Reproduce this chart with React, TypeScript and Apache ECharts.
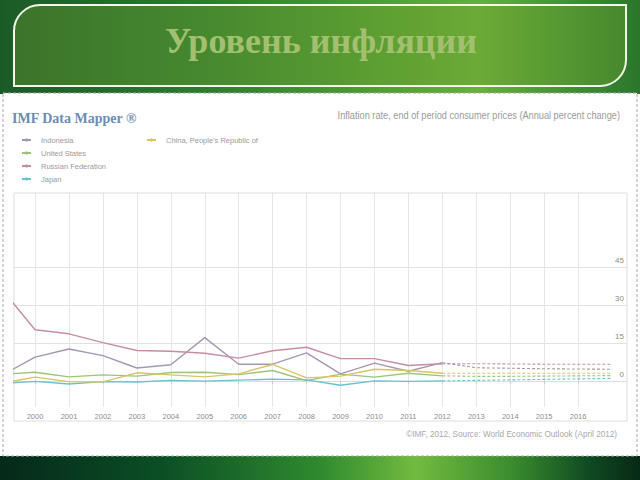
import React, { useEffect, useRef } from "react";
import * as echarts from "echarts";

const actualYears = [1999, 2000, 2001, 2002, 2003, 2004, 2005, 2006, 2007, 2008, 2009, 2010, 2011, 2012];
const forecastYears = [2012, 2013, 2014, 2015, 2016, 2017];
const axisYears = [2000, 2001, 2002, 2003, 2004, 2005, 2006, 2007, 2008, 2009, 2010, 2011, 2012, 2013, 2014, 2015, 2016];
const yTicks = [0, 15, 30, 45];

const countries = ["Indonesia", "United States", "Russian Federation", "Japan", "China, People's Republic of"];
const colors = ["#a597b3", "#9cc47a", "#c58ea6", "#66c2cf", "#d9c466"];

const indonesiaActual = [2.0, 9.4, 12.6, 10.0, 5.1, 6.4, 17.1, 6.6, 6.6, 11.1, 2.8, 7.0, 3.8, 7.2];
const usActual = [2.6, 3.4, 1.6, 2.4, 1.9, 3.3, 3.4, 2.5, 4.1, 0.1, 2.7, 1.5, 3.0, 2.0];
const russiaActual = [36.5, 20.2, 18.6, 15.1, 12.0, 11.7, 10.9, 9.0, 11.9, 13.3, 8.8, 8.8, 6.1, 6.8];
const japanActual = [-1.1, -0.2, -1.2, -0.3, -0.4, 0.2, -0.1, 0.3, 0.7, 0.4, -1.7, 0.0, -0.2, 0.0];
const chinaActual = [-1.0, 1.5, -0.3, -0.4, 3.2, 2.4, 1.6, 2.8, 6.5, 1.2, 1.9, 4.6, 4.1, 3.0];

const indonesiaForecast = [7.2, 5.2, 5.0, 4.8, 4.7, 4.6];
const usForecast = [2.0, 1.8, 1.8, 1.9, 2.0, 2.1];
const russiaForecast = [6.8, 6.8, 6.7, 6.6, 6.6, 6.6];
const japanForecast = [0.0, 0.2, 0.4, 0.6, 0.8, 1.0];
const chinaForecast = [3.0, 3.0, 3.0, 3.0, 3.0, 3.0];

const actualSets = [indonesiaActual, usActual, russiaActual, japanActual, chinaActual];
const forecastSets = [indonesiaForecast, usForecast, russiaForecast, japanForecast, chinaForecast];

export default function App() {
  const ref = useRef<HTMLDivElement>(null);
  useEffect(() => {
    if (!ref.current) return;
    const chart = echarts.init(ref.current, null, { renderer: "svg" });
    const series: any[] = [];
    countries.forEach((name, i) => {
      series.push({
        name,
        type: "line",
        data: actualYears.map((y, k) => [y, actualSets[i][k]]),
        showSymbol: false,
        symbol: "circle",
        symbolSize: 4,
        lineStyle: { color: colors[i], width: 1.4 },
        itemStyle: { color: colors[i] },
        z: 3,
        silent: true,
      });
    });
    countries.forEach((name, i) => {
      series.push({
        name,
        type: "line",
        data: forecastYears.map((y, k) => [y, forecastSets[i][k]]),
        showSymbol: false,
        symbol: "circle",
        lineStyle: { color: colors[i], width: 1.1, type: [3, 2] },
        itemStyle: { color: colors[i] },
        z: 3,
        silent: true,
      });
    });

    const legendText = {
      color: "#9a9a9a",
      fontSize: 7.5,
      fontFamily: "'Liberation Sans', Arial, sans-serif",
      padding: [0, 0, 0, 5],
      lineHeight: 10,
    };

    chart.setOption({
      animation: false,
      backgroundColor: "#ffffff",
      grid: { left: 14, right: 13, top: 193, bottom: 73, show: false },
      legend: [
        {
          data: countries.slice(0, 4),
          orient: "vertical",
          left: 21,
          top: 135,
          padding: 0,
          itemWidth: 9,
          itemHeight: 4,
          itemGap: 3,
          textStyle: legendText,
          selectedMode: false,
        },
        {
          data: countries.slice(4),
          orient: "vertical",
          left: 146,
          top: 135,
          padding: 0,
          itemWidth: 9,
          itemHeight: 4,
          itemGap: 3,
          textStyle: legendText,
          selectedMode: false,
        },
      ],
      xAxis: {
        type: "value",
        min: 1999.38,
        max: 2017.44,
        axisLine: { show: true, lineStyle: { color: "#dddddd" } },
        axisTick: { show: true, customValues: axisYears, length: 3, lineStyle: { color: "#cccccc" } },
        axisLabel: {
          customValues: axisYears,
          formatter: (v: number) => String(Math.round(v)),
          color: "#8c8c8c",
          fontSize: 7.5,
          margin: 5,
          fontFamily: "'Liberation Sans', Arial, sans-serif",
        },
        splitLine: { show: true, lineStyle: { color: "#e6e6e6", width: 1 } },
      },
      yAxis: {
        type: "value",
        position: "right",
        min: -10.3,
        max: 74.2,
        axisLine: { show: false },
        axisTick: { show: false, customValues: yTicks },
        axisLabel: {
          customValues: yTicks,
          inside: true,
          margin: 3,
          verticalAlign: "bottom",
          padding: [0, 0, 2, 0],
          color: "#8c8c8c",
          fontSize: 8,
          fontFamily: "'Liberation Sans', Arial, sans-serif",
        },
        splitLine: { show: true, lineStyle: { color: "#e2e2e2", width: 1 } },
      },
      graphic: [
        {
          type: "rect",
          z: -10,
          shape: { x: 0, y: 0, width: 640, height: 94 },
          style: {
            fill: new echarts.graphic.LinearGradient(0, 0, 1, 0, [
              { offset: 0, color: "#1a5a27" },
              { offset: 0.3, color: "#2a7a2e" },
              { offset: 0.6, color: "#4f9f33" },
              { offset: 0.75, color: "#66b03a" },
              { offset: 0.9, color: "#3d8e31" },
              { offset: 1, color: "#2a762d" },
            ]),
          },
        },
        {
          type: "rect",
          z: -9,
          shape: { x: 14, y: 5, width: 612, height: 81, r: [26, 0, 26, 0] },
          style: { fill: "rgba(120,160,50,0.35)", stroke: "#f2f7ea", lineWidth: 2 },
        },
        {
          type: "text",
          z: -8,
          x: 321,
          y: 41,
          style: {
            text: "Уровень инфляции",
            font: "bold 36px 'Liberation Serif', 'DejaVu Serif', serif",
            fill: "#a3c070",
            textAlign: "center",
            textVerticalAlign: "middle",
          },
        },
        {
          type: "rect",
          z: -10,
          shape: { x: 0, y: 456, width: 640, height: 24 },
          style: {
            fill: new echarts.graphic.LinearGradient(0, 0, 1, 0, [
              { offset: 0, color: "#05291a" },
              { offset: 0.25, color: "#0b4e25" },
              { offset: 0.5, color: "#2f8a2e" },
              { offset: 0.65, color: "#72bb3e" },
              { offset: 0.8, color: "#3a8c2e" },
              { offset: 0.92, color: "#0f4a22" },
              { offset: 1, color: "#082815" },
            ]),
          },
        },
        {
          type: "rect",
          z: -9,
          shape: { x: 3, y: 93, width: 634, height: 363 },
          style: { fill: "#ffffff", stroke: "#a8a8a8", lineWidth: 1, lineDash: [3, 2] },
        },
        {
          type: "rect",
          z: 1,
          shape: { x: 14, y: 193, width: 613, height: 228 },
          style: { fill: "none", stroke: "#dddddd", lineWidth: 1 },
          silent: true,
        },
        {
          type: "text",
          x: 12,
          y: 118,
          style: {
            text: "IMF Data Mapper ®",
            font: "bold 14px 'Liberation Serif', 'DejaVu Serif', serif",
            fill: "#6b8db5",
            textVerticalAlign: "middle",
          },
        },
        {
          type: "text",
          x: 620,
          y: 115,
          scaleX: 0.92,
          style: {
            text: "Inflation rate, end of period consumer prices (Annual percent change)",
            font: "10px 'Liberation Sans', Arial, sans-serif",
            fill: "#9a9a9a",
            textAlign: "right",
            textVerticalAlign: "middle",
          },
        },
        {
          type: "text",
          x: 617,
          y: 434,
          scaleX: 0.86,
          style: {
            text: "©IMF, 2012, Source: World Economic Outlook (April 2012)",
            font: "9.5px 'Liberation Sans', Arial, sans-serif",
            fill: "#a8a8a8",
            textAlign: "right",
            textVerticalAlign: "middle",
          },
        },
      ],
      series,
    });
    return () => chart.dispose();
  }, []);
  return (
    <div
      ref={ref}
      style={{ position: "fixed", left: 0, top: 0, width: 640, height: 480 }}
    />
  );
}
